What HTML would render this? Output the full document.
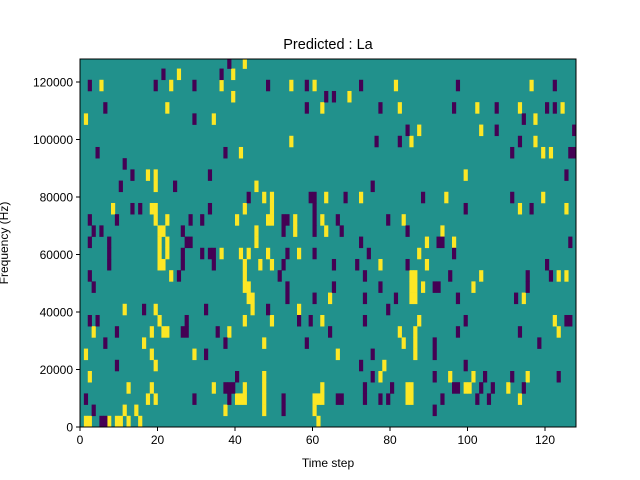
<!DOCTYPE html>
<html><head><meta charset="utf-8"><style>
html,body{margin:0;padding:0;background:#fff;}
svg{display:block;font-family:"Liberation Sans","DejaVu Sans",sans-serif;}
</style></head><body>
<svg id="chart" width="640" height="480" viewBox="0 0 640 480" xmlns="http://www.w3.org/2000/svg">
<rect width="640" height="480" fill="#fff"/>
<g id="cells"></g>
<g id="axes"></g>
<text x="328" y="49" font-size="14.5" text-anchor="middle">Predicted : La</text>
<text x="328" y="467" font-size="12" text-anchor="middle">Time step</text>
<text transform="translate(8,243) rotate(-90)" font-size="12" text-anchor="middle">Frequency (Hz)</text>
</svg>
<script>
const nSteps = 128;
const nBins = 33;
const binHz = 3896;
const xTicks = [0,20,40,60,80,100,120];
const yTicks = [0,20000,40000,60000,80000,100000,120000];
// time-step indices with value +1 (yellow), one array per frequency bin (bin 0 = bottom)
const highByBin = [
[1,2,7,9,10,12,15,61],
[11,14,37,47,60],
[17,19,40,41,42,47,60,61,62,84,85,113],
[12,18,34,42,47,62,84,85,99,100,110],
[2,47,77,95,101,115],
[19,78],
[1,18,29,66,86],
[16,47,83,86],
[3,18,21,22,38,82,86,123],
[20,42,49,62,87,122],
[11,19,44,56],
[43,44,64,85,86,114],
[42,43,85,86,88,101],
[23,42,85,86,103,123,125],
[20,21,42,46,49,77,89],
[20,22,36,41,43,48,56,87],
[20,22,45,89,96],
[20,21,45,55,63,93],
[19,22,40,48,49,55,62,83],
[8,18,19,42,49,113,125],
[47,49,63,72,94,119],
[19,45],
[17,19,99],
[],
[41,119,121],
[54,85,117],
[87,103],
[1,34,117],
[22,62,82,102,113,124],
[39,69],
[5,23,36,54,60,81,116],
[25,39],
[42]
];
// time-step indices with value -1 (purple)
const lowByBin = [
[5,6],
[3,52,91],
[1,29,38,52,66,67,73,77,79,93,102,105],
[37,38,39,73,80,96,97,103,106,114],
[40,75,91,104,111,123],
[9,72,99],
[32,75,91],
[6,37,58,91,118],
[9,26,27,35,64,97,113],
[2,4,27,56,59,73,99,125,126],
[16,32,48,79],
[53,60,73,81,97,112],
[3,53,65,77,91,92,115],
[2,25,51,73,95,115,121],
[7,26,34,52,65,71,84,120],
[7,26,31,33,34,53,60,74,96],
[2,7,27,28,72,92,93,126],
[3,5,26,52,60,67,84],
[2,9,28,31,52,53,60,66,79],
[13,15,33,60,99,116],
[43,59,60,68,88,111],
[10,24,75],
[13,33,125],
[11],
[4,37,111,126,127],
[76,82,113],
[84,107,127],
[29,114],
[6,58,77,96,107,120,122],
[63,65],
[2,19,29,48,58,72,97,122],
[21,36],
[38]
];
const NS="http://www.w3.org/2000/svg";
const L=80,R=576,T=59,B=427;
const yMax=128000;
const xS=t=>L+(t/nSteps)*(R-L);
const yS=v=>B-(v/yMax)*(B-T);
const cells=document.getElementById('cells');
const axes=document.getElementById('axes');
function mk(tag,attrs,parent){const e=document.createElementNS(NS,tag);for(const k in attrs)e.setAttribute(k,attrs[k]);parent.appendChild(e);return e;}
const bg=mk('rect',{x:L,y:T,width:R-L,height:B-T,fill:'#21918c'},cells);


function drawCells(arr,color,name){
  arr.forEach((ts,k)=>{
    ts.forEach(t=>{
      const y0=Math.max(T,yS((k+1)*binHz)), y1=yS(k*binHz);
      const r=mk('rect',{x:xS(t),y:y0,width:xS(t+1)-xS(t)+0.3,height:y1-y0+0.3,fill:color},cells);
      
      
    });
  });
}
drawCells(highByBin,'#fde725','cell-high');
drawCells(lowByBin,'#440154','cell-low');
const frame=mk('rect',{x:L,y:T,width:R-L,height:B-T,fill:'none',stroke:'#000','stroke-width':1},axes);


xTicks.forEach(v=>{
  const x=xS(v);
  const tk=mk('line',{x1:x,x2:x,y1:B,y2:B+4,stroke:'#000'},axes);
  
  
  const tx=mk('text',{x:x,y:B+17,'font-size':12,'text-anchor':'middle'},axes);
  tx.textContent=v;
  
  
});
yTicks.forEach(v=>{
  const y=yS(v);
  const tk=mk('line',{x1:L-4,x2:L,y1:y,y2:y,stroke:'#000'},axes);
  
  
  const tx=mk('text',{x:L-7,y:y+4.5,'font-size':12,'text-anchor':'end'},axes);
  tx.textContent=v;
  
  
});
</script>
</body></html>
